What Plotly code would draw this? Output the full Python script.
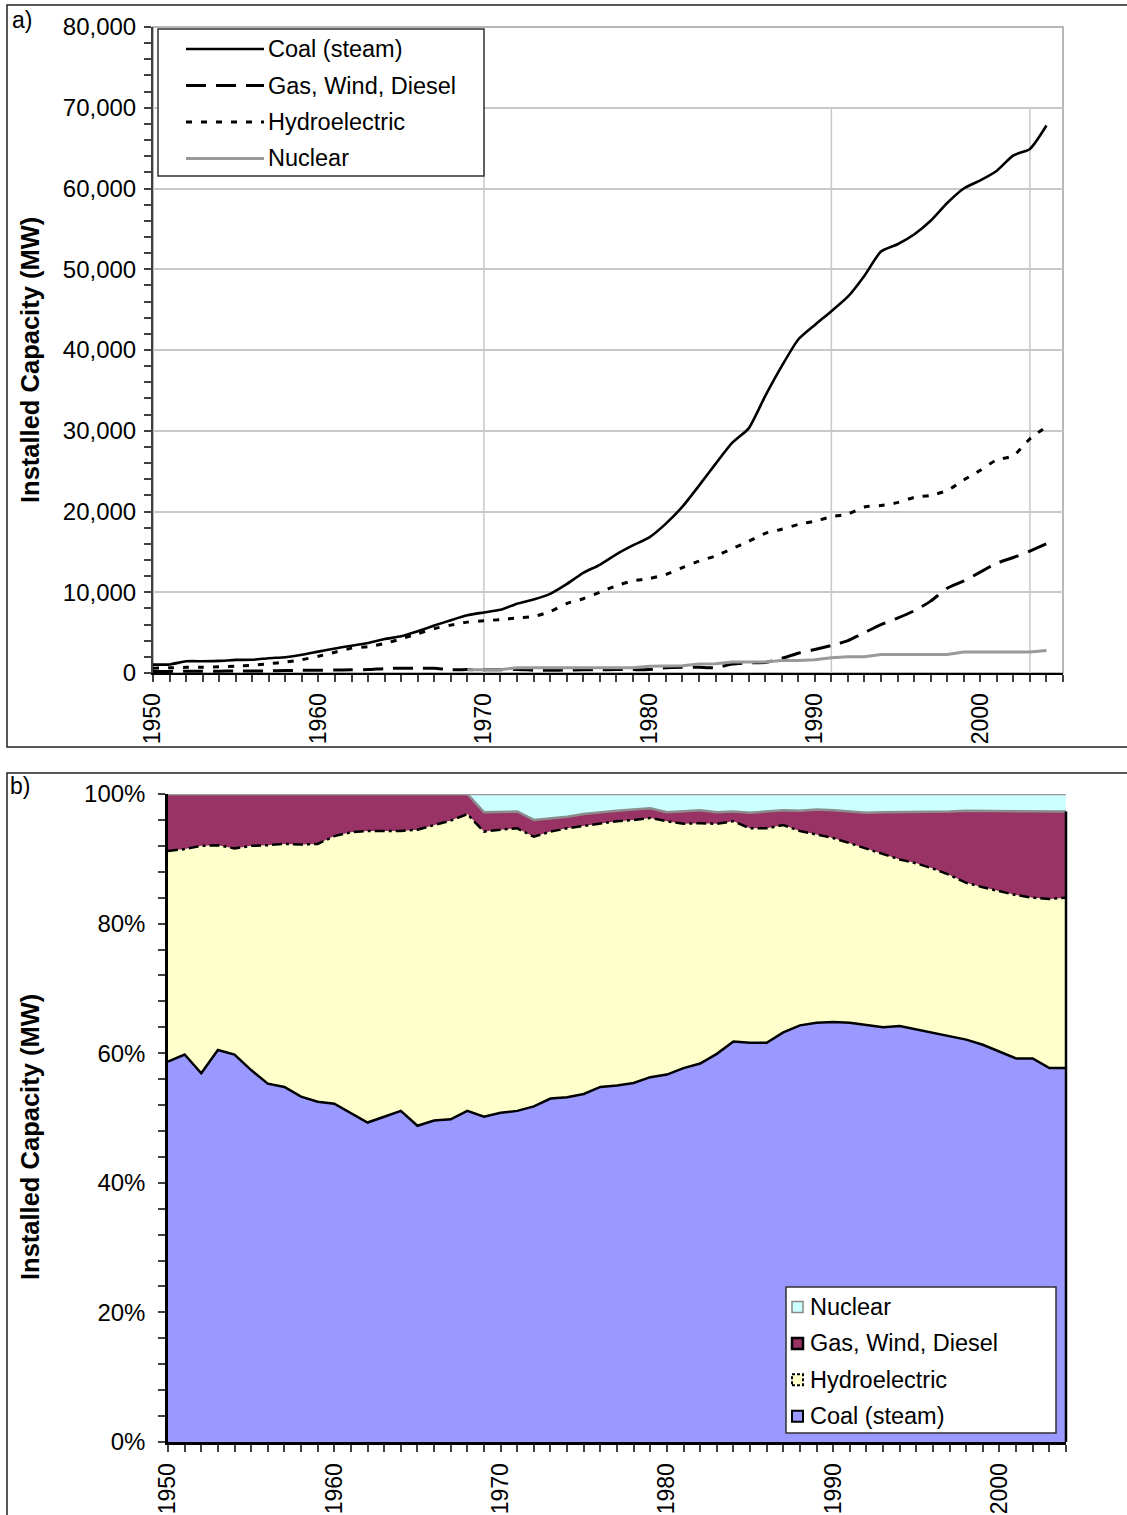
import plotly.graph_objects as go

W, H = 1127, 1515
FONT = "Liberation Sans, Arial, sans-serif"

years = list(range(1950, 2005))

# ---- a) installed capacity by source (MW) ----
coal_mw = [1040, 1060, 1450, 1460, 1500, 1620, 1640, 1830, 1960, 2250,
           2650, 3040, 3380, 3710, 4210, 4540, 5170, 5870, 6540, 7150,
           7500, 7820, 8590, 9100, 9800, 11000, 12400, 13400, 14700, 15800,
           16800, 18500, 20600, 23200, 25900, 28500, 30300, 34300, 38000, 41300,
           43100, 44800, 46600, 49200, 52200, 53100, 54300, 56000, 58200, 60000,
           61000, 62200, 64100, 64900, 67800]
gas_mw = [200, 200, 220, 220, 230, 240, 250, 270, 300, 330,
          340, 360, 390, 420, 550, 600, 600, 580, 420, 420,
          400, 400, 430, 350, 340, 370, 390, 400, 420, 420,
          420, 640, 700, 700, 650, 1100, 1250, 1300, 1800, 2450,
          2900, 3400, 4000, 5000, 6000, 6800, 7700, 8900, 10500, 11400,
          12500, 13600, 14300, 15100, 16000]
hydro_mw = [600, 640, 700, 720, 760, 850, 950, 1150, 1350, 1650,
            2080, 2580, 3080, 3270, 3650, 4230, 4850, 5500, 5930, 6300,
            6460, 6620, 6800, 7000, 7600, 8600, 9200, 10000, 10800, 11400,
            11700, 12200, 13050, 13850, 14500, 15400, 16300, 17300, 17800, 18400,
            18800, 19350, 19700, 20550, 20750, 21100, 21750, 22000, 22600, 23900,
            25100, 26400, 26900, 29000, 30500]
nuclear_mw = [None] * 19 + [
    400, 400, 400, 650, 650, 650, 650, 650, 650, 650, 650,
    850, 850, 900, 1100, 1150, 1350, 1350, 1350, 1550, 1550,
    1650, 1900, 2000, 2000, 2300, 2300, 2300, 2300, 2300, 2600,
    2600, 2600, 2600, 2600, 2800]

# ---- b) share of installed capacity (%) ----
coal_pct = [58.7, 59.8, 56.9, 60.5, 59.8, 57.4, 55.3, 54.8, 53.3, 52.5,
            52.2, 50.7, 49.3, 50.2, 51.1, 48.8, 49.6, 49.8, 51.1, 50.2,
            50.8, 51.1, 51.8, 53.0, 53.2, 53.7, 54.8, 55.0, 55.4, 56.3,
            56.7, 57.7, 58.4, 59.9, 61.8, 61.6, 61.6, 63.2, 64.3, 64.7,
            64.8, 64.7, 64.4, 64.0, 64.2, 63.7, 63.1, 62.7, 62.1, 61.3,
            60.3, 59.2, 59.2, 57.7, 57.7]
hydro_pct = [32.5, 31.7, 35.1, 31.6, 31.8, 34.6, 36.8, 37.5, 38.9, 39.8,
             41.3, 43.4, 45.0, 44.1, 43.2, 45.7, 45.6, 46.1, 45.8, 44.0,
             43.7, 43.6, 41.6, 41.2, 41.5, 41.4, 40.7, 40.8, 40.6, 40.0,
             39.1, 37.7, 37.1, 35.5, 34.0, 33.1, 33.1, 32.0, 30.0, 29.0,
             28.4, 27.7, 27.2, 26.7, 25.7, 25.6, 25.4, 24.8, 24.2, 24.3,
             24.7, 25.2, 24.8, 26.1, 26.3]
gas_pct = [8.8, 8.5, 8.0, 7.9, 8.4, 8.0, 7.9, 7.7, 7.8, 7.7,
           6.5, 5.9, 5.7, 5.7, 5.7, 5.5, 4.8, 4.1, 3.1, 3.0,
           2.7, 2.6, 2.6, 2.0, 1.8, 1.8, 1.7, 1.6, 1.6, 1.5,
           1.4, 2.0, 2.0, 1.8, 1.5, 2.4, 2.6, 2.3, 3.1, 3.9,
           4.3, 4.9, 5.5, 6.5, 7.3, 8.0, 8.8, 9.8, 11.1, 11.8,
           12.3, 12.9, 13.3, 13.5, 13.3]
nuclear_pct = [0.0] * 19 + [
    2.8, 2.8, 2.7, 4.0, 3.8, 3.5, 3.1, 2.8, 2.6, 2.4, 2.2,
    2.8, 2.6, 2.5, 2.8, 2.7, 2.9, 2.7, 2.5, 2.6, 2.4,
    2.5, 2.7, 2.9, 2.8, 2.8, 2.7, 2.7, 2.7, 2.6, 2.6,
    2.7, 2.7, 2.7, 2.7, 2.7]

# vertical reference lines on the capacity panel
vline_years = [1970, 1991, 2003]

NAMES = ["Coal (steam)", "Gas, Wind, Diesel", "Hydroelectric", "Nuclear"]
FILL = {"coal": "#9999FF", "hydro": "#FFFFCC", "gas": "#993366", "nuclear": "#CCFFFF"}
GAS_DASH = "20px,10px"
HYDRO_DASH = "6px,9px"


def px(x):
    return x / W


def py(y):
    return 1 - y / H


fig = go.Figure()

# ---- panel a lines ----
fig.add_trace(go.Scatter(x=years, y=coal_mw, mode="lines", name=NAMES[0],
                         line=dict(color="black", width=2.6, shape="spline", smoothing=0.6),
                         xaxis="x", yaxis="y"))
fig.add_trace(go.Scatter(x=years, y=gas_mw, mode="lines", name=NAMES[1],
                         line=dict(color="black", width=3, dash=GAS_DASH, shape="spline", smoothing=0.6),
                         xaxis="x", yaxis="y"))
fig.add_trace(go.Scatter(x=years, y=hydro_mw, mode="lines", name=NAMES[2],
                         line=dict(color="black", width=3, dash=HYDRO_DASH, shape="spline", smoothing=0.6),
                         xaxis="x", yaxis="y"))
fig.add_trace(go.Scatter(x=years, y=nuclear_mw, mode="lines", name=NAMES[3],
                         line=dict(color="#999999", width=3),
                         xaxis="x", yaxis="y"))

# ---- panel b stacked shares ----
fig.add_trace(go.Scatter(x=years, y=coal_pct, mode="lines", stackgroup="share", name=NAMES[0],
                         line=dict(color="black", width=2.5), fillcolor=FILL["coal"],
                         xaxis="x2", yaxis="y2"))
fig.add_trace(go.Scatter(x=years, y=hydro_pct, mode="lines", stackgroup="share", name=NAMES[2],
                         line=dict(color="black", width=2.5, dash="10px,4px,3px,4px"),
                         fillcolor=FILL["hydro"], xaxis="x2", yaxis="y2"))
fig.add_trace(go.Scatter(x=years, y=gas_pct, mode="lines", stackgroup="share", name=NAMES[1],
                         line=dict(color="#8C8C8C", width=2.5), fillcolor=FILL["gas"],
                         xaxis="x2", yaxis="y2"))
fig.add_trace(go.Scatter(x=years, y=nuclear_pct, mode="lines", stackgroup="share", name=NAMES[3],
                         line=dict(color="#999999", width=2.5), fillcolor=FILL["nuclear"],
                         xaxis="x2", yaxis="y2"))

tickfont = dict(family=FONT, size=24, color="black")
xtickfont = dict(family=FONT, size=23, color="black")

xcommon = dict(tickmode="linear", tick0=1950, dtick=10, tickangle=-90,
               ticks="outside", ticklen=7, tickwidth=1.5, tickcolor="#404040",
               showgrid=False, zeroline=False, showline=True, tickfont=xtickfont,
               ticklabelstandoff=2, automargin=False,
               minor=dict(tick0=1950, dtick=1, ticks="outside", ticklen=7,
                          tickwidth=1.5, tickcolor="#404040", showgrid=False))

fig.update_layout(
    template="none",
    width=W, height=H, margin=dict(l=0, r=0, t=0, b=0, pad=0, autoexpand=False),
    paper_bgcolor="white", plot_bgcolor="white", showlegend=False,
    font=dict(family=FONT, size=22, color="black"),
    xaxis=dict(domain=[px(153), px(1063)], range=[1950, 2005], anchor="y",
               linecolor="black", linewidth=2, **xcommon),
    yaxis=dict(domain=[py(673), py(27)], range=[0, 80000], dtick=10000, tickformat=",",
               anchor="x", ticks="outside", ticklen=7, tickwidth=1.5, tickcolor="#404040",
               showline=True, linecolor="#404040", linewidth=2, automargin=False,
               showgrid=True, gridcolor="#C8C8C8", gridwidth=1.5, zeroline=False,
               tickfont=tickfont, ticklabelstandoff=3,
               minor=dict(dtick=2000, ticks="outside", ticklen=7, tickwidth=1.5,
                          tickcolor="#404040", showgrid=False)),
    xaxis2=dict(domain=[px(168), px(1066)], range=[1950, 2004], anchor="y2",
                linecolor="black", linewidth=3, **xcommon),
    yaxis2=dict(domain=[py(1442), py(794)], range=[0, 100], dtick=20, ticksuffix="%",
                anchor="x2", ticks="outside", ticklen=7, tickwidth=1.5, tickcolor="#404040",
                showline=True, linecolor="black", linewidth=2.5, automargin=False,
                showgrid=False, zeroline=False, tickfont=tickfont, ticklabelstandoff=8,
                minor=dict(dtick=4, ticks="outside", ticklen=7, tickwidth=1.5,
                           tickcolor="#404040", showgrid=False)),
)

shapes = []
# outer frames of both panels
shapes.append(dict(type="rect", xref="paper", yref="paper", x0=px(7), x1=1.01,
                   y0=py(747), y1=py(5), line=dict(color="#202020", width=1.5), layer="above"))
shapes.append(dict(type="rect", xref="paper", yref="paper", x0=px(7), x1=1.01,
                   y0=-0.01, y1=py(773), line=dict(color="#202020", width=1.5), layer="above"))
# plot-area border of panel a
shapes.append(dict(type="rect", xref="x domain", yref="y domain", x0=0, x1=1, y0=0, y1=1,
                   line=dict(color="#A0A0A0", width=1.5), layer="below"))
for yr in vline_years:
    shapes.append(dict(type="line", xref="x", yref="y", x0=yr, x1=yr, y0=0, y1=70000,
                       line=dict(color="#C8C8C8", width=1.5), layer="below"))
# right edge of the stacked panel
shapes.append(dict(type="line", xref="x2 domain", yref="y2 domain", x0=1, x1=1, y0=0, y1=0.973,
                   line=dict(color="black", width=2.5), layer="above"))

annotations = []

# legend of panel a
shapes.append(dict(type="rect", xref="paper", yref="paper", x0=px(158), x1=px(484),
                   y0=py(176), y1=py(29), fillcolor="white",
                   line=dict(color="#303030", width=1.5), layer="above"))
legend_a = [
    (NAMES[0], dict(color="black", width=2.6)),
    (NAMES[1], dict(color="black", width=3, dash=GAS_DASH)),
    (NAMES[2], dict(color="black", width=3, dash=HYDRO_DASH)),
    (NAMES[3], dict(color="#999999", width=3)),
]
for i, (label, ln) in enumerate(legend_a):
    yy = 49 + i * 36.5
    shapes.append(dict(type="line", xref="paper", yref="paper", x0=px(186), x1=px(264),
                       y0=py(yy), y1=py(yy), line=ln, layer="above"))
    annotations.append(dict(x=px(266), y=py(yy), xref="paper", yref="paper", text=label,
                            showarrow=False, xanchor="left", yanchor="middle",
                            font=dict(family=FONT, size=23.5, color="black")))

# legend of panel b
shapes.append(dict(type="rect", xref="paper", yref="paper", x0=px(786), x1=px(1056),
                   y0=py(1433), y1=py(1287), fillcolor="white",
                   line=dict(color="#303030", width=1.5), layer="above"))
legend_b = [
    (NAMES[3], FILL["nuclear"], dict(color="#888888", width=1.5)),
    (NAMES[1], FILL["gas"], dict(color="black", width=2.5)),
    (NAMES[2], FILL["hydro"], dict(color="black", width=2, dash="3px,2px")),
    (NAMES[0], FILL["coal"], dict(color="black", width=2)),
]
for i, (label, fc, ln) in enumerate(legend_b):
    yy = 1307 + i * 36.4
    shapes.append(dict(type="rect", xref="paper", yref="paper", x0=px(792), x1=px(803),
                       y0=py(yy + 5.5), y1=py(yy - 5.5), fillcolor=fc, line=ln, layer="above"))
    annotations.append(dict(x=px(808), y=py(yy), xref="paper", yref="paper", text=label,
                            showarrow=False, xanchor="left", yanchor="middle",
                            font=dict(family=FONT, size=23.5, color="black")))

# axis titles and panel letters
for yc in (360, 1137):
    annotations.append(dict(x=px(30), y=py(yc), xref="paper", yref="paper",
                            text="<b>Installed Capacity (MW)</b>", textangle=-90,
                            showarrow=False, xanchor="center", yanchor="middle",
                            font=dict(family=FONT, size=25.5, color="black")))
annotations.append(dict(x=px(10), y=py(20), xref="paper", yref="paper", text="a)",
                        showarrow=False, xanchor="left", yanchor="middle",
                        font=dict(family=FONT, size=23, color="black")))
annotations.append(dict(x=px(8), y=py(786), xref="paper", yref="paper", text="b)",
                        showarrow=False, xanchor="left", yanchor="middle",
                        font=dict(family=FONT, size=23, color="black")))

fig.update_layout(shapes=shapes, annotations=annotations)

fig.write_html("out.html")
